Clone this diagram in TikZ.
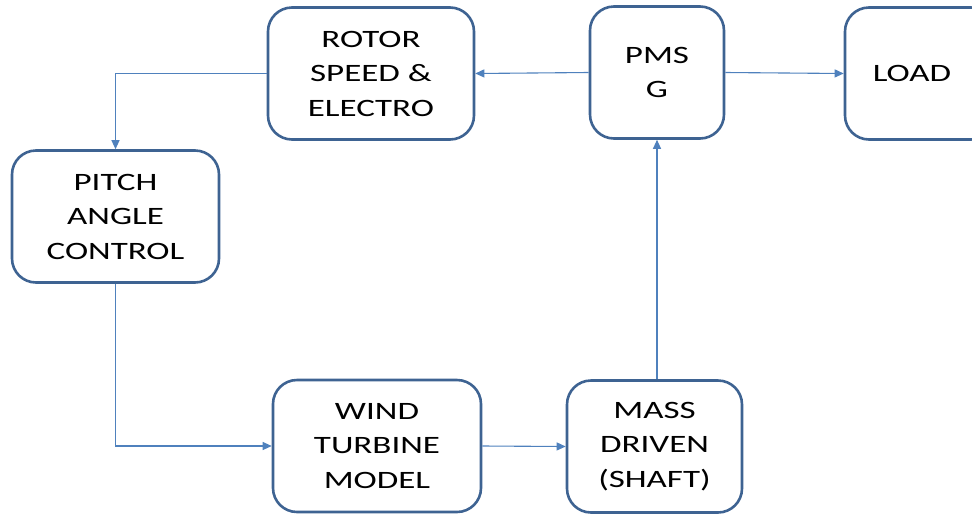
\documentclass[tikz,border=0pt]{standalone}
\usepackage{fontspec}
\setmainfont[FakeStretch=1.4]{Carlito}
\usetikzlibrary{arrows.meta}

\begin{document}
\begin{tikzpicture}[
    x=1pt, y=-1pt,
    % Estilo para los bloques redondeados
    blockbox/.style={
        draw=boxblue, line width=2.6pt, rounded corners=24pt,
        fill=white, align=center, text=black,
        font=\fontsize{25}{34.5}\selectfont,
        minimum height=132pt, inner sep=0pt
    },
    % Estilo para las conexiones
    flowline/.style={
        draw=lineblue, line width=1.1pt,
        -{Triangle[length=9pt,width=8pt]}
    }
]
    % Configuración de colores
    \definecolor{boxblue}{RGB}{62, 99, 146}
    \definecolor{lineblue}{RGB}{79, 129, 189}

    % Marco fijo de la figura
    \useasboundingbox (0,0) rectangle (972,515);

    % Bloques de la fila superior
    \node [blockbox, minimum width=206pt] (rotor) at (371,73.5) {ROTOR\\SPEED \&\\ELECTRO};
    \node [blockbox, minimum width=134pt] (pmsg) at (657,72.5) {PMS\\G};
    \node [blockbox, minimum width=150pt] (load) at (920,73.5) {\hspace*{-16pt}LOAD};

    % Bloque de control a la izquierda
    \node [blockbox, minimum width=207pt] (pitch) at (115.5,216.5) {PITCH\\ANGLE\\CONTROL};

    % Bloques de la fila inferior
    \node [blockbox, minimum width=208pt] (wind) at (377,446) {WIND\\TURBINE\\MODEL};
    \node [blockbox, minimum width=175pt] (mass) at (654.5,446.5) {MASS\\DRIVEN\\(SHAFT)};

    % Conexiones entre bloques
    \draw [flowline] (pmsg.west) -- (rotor.east);
    \draw [flowline] (pmsg.east) -- (load.west);
    \draw [flowline] (rotor.west) -| (pitch.north);
    \draw [flowline] (pitch.south) |- (wind.west);
    \draw [flowline] (wind.east) -- (mass.west);
    \draw [flowline] (mass.north -| pmsg.south) -- (pmsg.south);

\end{tikzpicture}
\end{document}
